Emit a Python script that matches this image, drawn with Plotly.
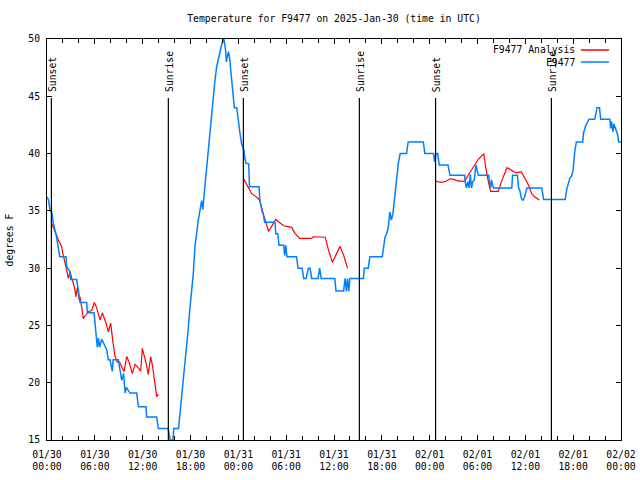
import plotly.graph_objects as go
import pandas as pd

BASE = pd.Timestamp("2025-01-30 00:00")

# Observed temperature (F9477), hours after 2025-01-30 00:00 UTC
obs_hours = [0.0, 0.17, 0.4, 0.6, 0.8, 1.2, 1.6, 2.38, 2.47, 2.89, 2.97, 3.72, 3.93, 4.14, 4.98, 5.06, 5.9,
             6.1, 6.31, 6.45, 6.6, 6.86, 7.48, 7.69, 7.9, 8.2, 8.3, 8.95, 9.1, 9.37, 9.6, 9.8, 9.95, 10.41,
             11.25, 11.46, 12.42, 12.5, 13.76, 13.96, 15.2, 15.45, 15.8, 15.9, 16.5, 16.68, 16.9, 17.1, 17.3,
             17.5, 17.7, 17.9, 18.1, 18.35, 18.56, 18.78, 18.98, 19.4, 19.55, 19.8, 20.0, 20.2, 20.4, 20.66,
             20.86, 21.07, 21.29, 21.7, 21.9, 22.2, 22.4, 22.5, 22.75, 22.9, 23.1, 23.3, 23.5, 23.8, 24.0,
             24.2, 24.4, 24.7, 24.8, 24.96, 25.3, 25.4, 26.6, 26.7, 27.0, 27.1, 27.3, 28.6, 28.7, 28.95,
             29.1, 29.7, 29.8, 29.95, 30.1, 31.3, 31.5, 32.0, 32.2, 32.5, 32.8, 33.0, 33.2, 34.0, 34.2,
             34.4, 36.1, 36.25, 37.2, 37.4, 37.55, 37.7, 37.85, 38.0, 39.7, 39.8, 40.3, 40.5, 42.06, 42.2,
             42.4, 42.6, 42.8, 43.0, 43.2, 43.4, 43.65, 43.9, 44.07, 44.3, 45.1, 45.3, 47.2, 47.4, 48.5,
             48.6, 48.8, 49.0, 49.2, 50.3, 50.55, 52.4, 52.45, 52.6, 52.8, 52.95, 53.1, 53.25, 53.4, 53.6,
             53.8, 54.1, 55.4, 55.5, 55.65, 55.75, 56.0, 58.3, 58.4, 59.0, 59.15, 59.3, 59.5, 59.7, 59.9,
             60.2, 62.05, 62.3, 65.0, 65.2, 65.4, 65.6, 65.8, 66.0, 66.2, 66.4, 67.2, 67.3, 67.6, 68.0,
             68.7, 69.0, 69.3, 69.45, 70.6, 70.7, 70.8, 71.0, 71.1, 71.4, 71.6, 71.7, 72.0]
obs_temps = [36.2, 36.0, 35.0, 34.9, 33.9, 32.7, 31.0, 31.0, 30.1, 29.7, 29.0, 29.0, 28.1, 27.0, 27.0, 26.1, 26.1,
             24.5, 23.1, 23.9, 23.1, 23.8, 22.9, 22.0, 22.0, 21.0, 22.0, 22.0, 21.4, 20.2, 20.8, 19.1, 19.6, 19.1,
             19.1, 17.9, 17.9, 17.0, 17.0, 16.0, 16.0, 15.0, 15.0, 16.0, 16.0, 17.3, 18.5, 19.9, 21.1,
             22.85, 24.6, 26.3, 27.8, 29.5, 31.9, 33.3, 34.2, 35.9, 35.1, 37.1, 38.6, 40.0, 41.8, 43.2,
             45.0, 46.4, 47.6, 48.75, 49.5, 50.0, 49.0, 48.0, 48.9, 48.4, 47.0, 45.0, 44.0, 44.0, 42.6,
             41.8, 40.9, 40.3, 39.7, 39.15, 39.1, 37.1, 37.1, 35.9, 34.9, 34.8, 34.0, 34.0, 33.0, 33.0,
             32.0, 32.0, 31.1, 32.0, 31.0, 31.0, 30.0, 30.0, 29.1, 29.1, 30.0, 30.0, 29.1, 29.1, 30.0,
             29.1, 29.1, 28.0, 28.0, 29.1, 28.0, 29.1, 28.0, 29.1, 29.1, 30.0, 30.0, 31.0, 31.0, 31.7,
             32.7, 33.0, 33.5, 34.9, 34.2, 34.8, 36.5, 38.4, 39.15, 40.0, 40.0, 41.0, 41.0, 40.0, 40.0,
             39.3, 40.0, 40.0, 39.0, 39.0, 38.1, 38.1, 37.55, 37.0, 37.55, 37.0, 38.2, 37.0, 37.55, 37.7,
             39.0, 38.1, 38.1, 37.5, 37.0, 37.7, 37.0, 37.0, 38.1, 38.1, 37.0, 36.8, 36.1, 35.9, 36.2,
             37.0, 37.0, 36.0, 36.0, 36.9, 37.4, 37.9, 38.0, 38.6, 40.2, 41.0, 41.0, 41.8, 42.5, 43.0,
             43.0, 44.0, 44.0, 43.0, 43.0, 42.2, 42.8, 41.9, 42.6, 41.9, 41.6, 41.0, 41.0]

# Analysis temperature (F9477 Analysis); None separates the three runs
ana_hours = [0.58, 1.0, 1.2, 1.42, 1.6, 1.84, 2.05, 2.26, 2.47, 2.68, 2.9, 3.1, 3.3, 3.5, 3.64, 3.8, 3.9, 4.05,
             4.15, 4.35, 4.56, 4.75, 5.19, 5.6, 5.94, 6.2, 6.65, 6.94, 7.05, 7.36, 7.69, 7.99, 8.24, 8.53,
             8.82, 9.1, 9.37, 9.66, 10.0, 10.3, 10.7, 11.04, 11.46, 11.75, 11.96, 12.3, 12.5, 12.7, 13.0,
             13.25, 13.46, 13.76, 13.96, None,
             24.7, 25.26, 25.68, 26.3, 26.7, 27.1, 27.5, 27.8, 28.3, 28.7, 29.2, 29.7, 30.7, 31.1, 31.7,
             33.2, 33.4, 34.9, 35.3, 35.8, 36.75, 37.2, 37.7, None,
             48.75, 49.3, 49.7, 50.1, 50.55, 51.0, 51.6, 52.4, 53.0, 53.5, 54.1, 54.8, 55.0, 55.4, 55.65,
             56.6, 57.0, 57.7, 58.2, 58.8, 59.5, 60.4, 60.8, 61.2, 61.75]
ana_temps = [33.9, 33.3, 32.9, 32.46, 32.2, 31.87, 31.1, 30.56, 29.8, 29.1, 29.7, 29.1, 28.7, 28.1, 27.5, 28.3, 28.0, 27.2,
             27.5, 26.6, 25.6, 25.8, 26.2, 26.3, 27.0, 26.6, 25.47, 26.1, 25.9, 25.3, 24.45, 25.2, 23.7, 22.27,
             21.8, 21.8, 21.4, 20.96, 22.3, 21.8, 20.8, 21.6, 21.3, 21.0, 23.0, 22.1, 21.5, 20.73, 22.27,
             21.4, 20.1, 18.78, 19.0, None,
             37.75, 36.97, 36.5, 36.2, 35.9, 34.8, 33.9, 33.2, 33.8, 34.25, 33.97, 33.7, 33.56, 33.04, 32.6,
             32.6, 32.74, 32.7, 31.6, 30.5, 31.9, 31.15, 29.98, None,
             37.6, 37.5, 37.5, 37.6, 37.8, 37.75, 37.6, 37.6, 38.3, 38.86, 39.5, 40.0, 38.9, 37.4, 36.7,
             36.7, 37.55, 38.77, 38.6, 38.33, 38.4, 37.26, 36.5, 36.2, 35.95]

# Sun events
sun_hours = [0.55, 15.22, 24.63, 39.18, 48.74, 63.27]
sun_labels = ["Sunset", "Sunrise", "Sunset", "Sunrise", "Sunset", "Sunrise"]

legend_names = ["F9477 Analysis", "F9477"]
legend_colors = ["#ff0000", "#0080ff"]


def to_time(hours):
    return [BASE + pd.Timedelta(hours=h) if h is not None else None for h in hours]


FONT = "DejaVu Sans Mono"
FS = 9.75
fig = go.Figure()
fig.add_trace(go.Scatter(x=to_time(ana_hours), y=ana_temps, mode="lines", name=legend_names[0],
                         line=dict(color=legend_colors[0], width=1.2), connectgaps=False, showlegend=False))
fig.add_trace(go.Scatter(x=to_time(obs_hours), y=obs_temps, mode="lines", name=legend_names[1],
                         line=dict(color=legend_colors[1], width=1.5), showlegend=False))

for h, lab in zip(sun_hours, sun_labels):
    t = BASE + pd.Timedelta(hours=h)
    fig.add_shape(type="line", xref="x", yref="paper", x0=t, x1=t, y0=0, y1=0.853,
                  line=dict(color="black", width=1.2))
    fig.add_annotation(x=t, xref="x", y=0.865, yref="paper", text=lab, textangle=-90,
                       showarrow=False, xanchor="center", yanchor="bottom", xshift=1,
                       font=dict(family=FONT, size=FS, color="black"), borderpad=0)

# gnuplot-style legend: text on the left, line sample on the right
leg_y = [0.9726, 0.9426]
for name, col, yy in zip(legend_names, legend_colors, leg_y):
    fig.add_annotation(x=0.922, xref="paper", y=yy, yref="paper", text=name, showarrow=False,
                       xanchor="right", yanchor="middle", borderpad=0,
                       font=dict(family=FONT, size=FS, color="black"))
    fig.add_shape(type="line", xref="paper", yref="paper", x0=0.930, x1=0.979, y0=yy, y1=yy,
                  line=dict(color=col, width=1.5))

# y-axis title placed like gnuplot's ylabel
fig.add_annotation(x=-0.0645, xref="paper", y=0.5, yref="paper", text="degrees F", textangle=-90,
                   showarrow=False, xanchor="center", yanchor="middle", borderpad=0,
                   font=dict(family=FONT, size=FS, color="black"))

fig.update_layout(
    width=640, height=480,
    margin=dict(l=47, r=19, t=39, b=40, autoexpand=False),
    paper_bgcolor="white", plot_bgcolor="white",
    font=dict(family=FONT, size=FS, color="black"),
    title=dict(text="Temperature for F9477 on 2025-Jan-30 (time in UTC)", x=0.5, xref="paper",
               y=1 - 19 / 480, yref="container", xanchor="center", yanchor="middle",
               font=dict(family=FONT, size=FS, color="black")),
    showlegend=False,
)
fig.update_xaxes(
    type="date", range=[BASE, BASE + pd.Timedelta(hours=72)],
    tick0=BASE, dtick=6 * 3600 * 1000, tickformat="%m/%d<br>%H:%M",
    ticks="inside", ticklen=5, tickcolor="black", tickwidth=1, ticklabelstandoff=5,
    minor=dict(dtick=2 * 3600 * 1000, ticks="inside", ticklen=4, tickcolor="black", showgrid=False),
    showline=True, linecolor="black", linewidth=1, mirror="ticks",
    showgrid=False, zeroline=False, automargin=False,
    tickfont=dict(family=FONT, size=FS, color="black"),
)
fig.update_yaxes(
    range=[15, 50], tick0=15, dtick=5,
    ticks="inside", ticklen=5, tickcolor="black", tickwidth=1, ticklabelstandoff=4,
    showline=True, linecolor="black", linewidth=1, mirror="ticks",
    showgrid=False, zeroline=False, automargin=False,
    tickfont=dict(family=FONT, size=FS, color="black"),
)

fig.write_html("out.html", config={"displayModeBar": False},
               post_script="document.body.style.margin='0';")
